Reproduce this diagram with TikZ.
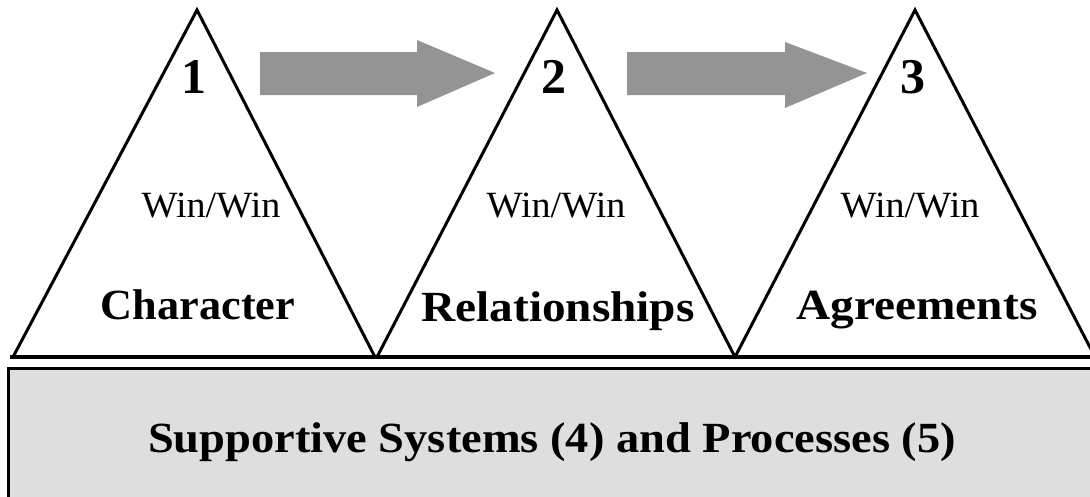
\documentclass[tikz,border=0pt]{standalone}
\usepackage{fontspec}
\setmainfont{Liberation Serif}
\begin{document}
\begin{tikzpicture}[x=1pt,y=-1pt,line width=3pt,
  tri/.style={draw=black,line join=miter},
  arr/.style={fill=black!42,draw=none},
  sysbox/.style={fill=black!13},
  num/.style={font=\fontsize{50}{52}\selectfont\bfseries,anchor=base,inner sep=0pt},
  ww/.style={font=\fontsize{37}{40}\selectfont\addfontfeature{FakeStretch=1.03},anchor=base,inner sep=0pt},
  lbl/.style={font=\fontsize{43}{46}\selectfont\bfseries,anchor=base,inner sep=0pt}]
\useasboundingbox (0,0) rectangle (1090,496);
\begin{scope}
\clip (0,0) rectangle (1090,496);
% supportive box
\fill[sysbox] (8,368) rectangle (1100,510);
\draw (8,510) -- (8,368) -- (1100,368);
% triangles
\draw[tri] (13,357) -- (197,10) -- (375,357);
\draw[tri] (377,357) -- (557,10) -- (735,357);
\draw[tri] (735,357) -- (915,10) -- (1095,357);
\draw[line width=3.5pt] (10,357) -- (1100,357);
% arrows
\fill[arr] (260,52) -- (417,52) -- (417,40) -- (495,73) -- (417,107) -- (417,95) -- (260,95) -- cycle;
\fill[arr] (627,52) -- (785,52) -- (785,42) -- (867,73) -- (785,108) -- (785,95) -- (627,95) -- cycle;
\end{scope}
% texts
\node[num] (n1) at (194,93) {1};
\node[num] (n2) at (554,93) {2};
\node[num] (n3) at (913,93) {3};
\node[ww] (w1) at (211,217) {Win/Win};
\node[ww] (w2) at (556,217) {Win/Win};
\node[ww] (w3) at (910,217) {Win/Win};
\node[lbl] (c1) at (198,319) {\addfontfeature{FakeStretch=1.03}Character};
\node[lbl] (c2) at (558,321) {\addfontfeature{FakeStretch=1.10}Relationships};
\node[lbl] (c3) at (917,319) {\addfontfeature{FakeStretch=1.10}Agreements};
\node[lbl] (sys) at (552,452) {\addfontfeature{FakeStretch=1.08}Supportive Systems (4) and Processes (5)};
\end{tikzpicture}
\end{document}
